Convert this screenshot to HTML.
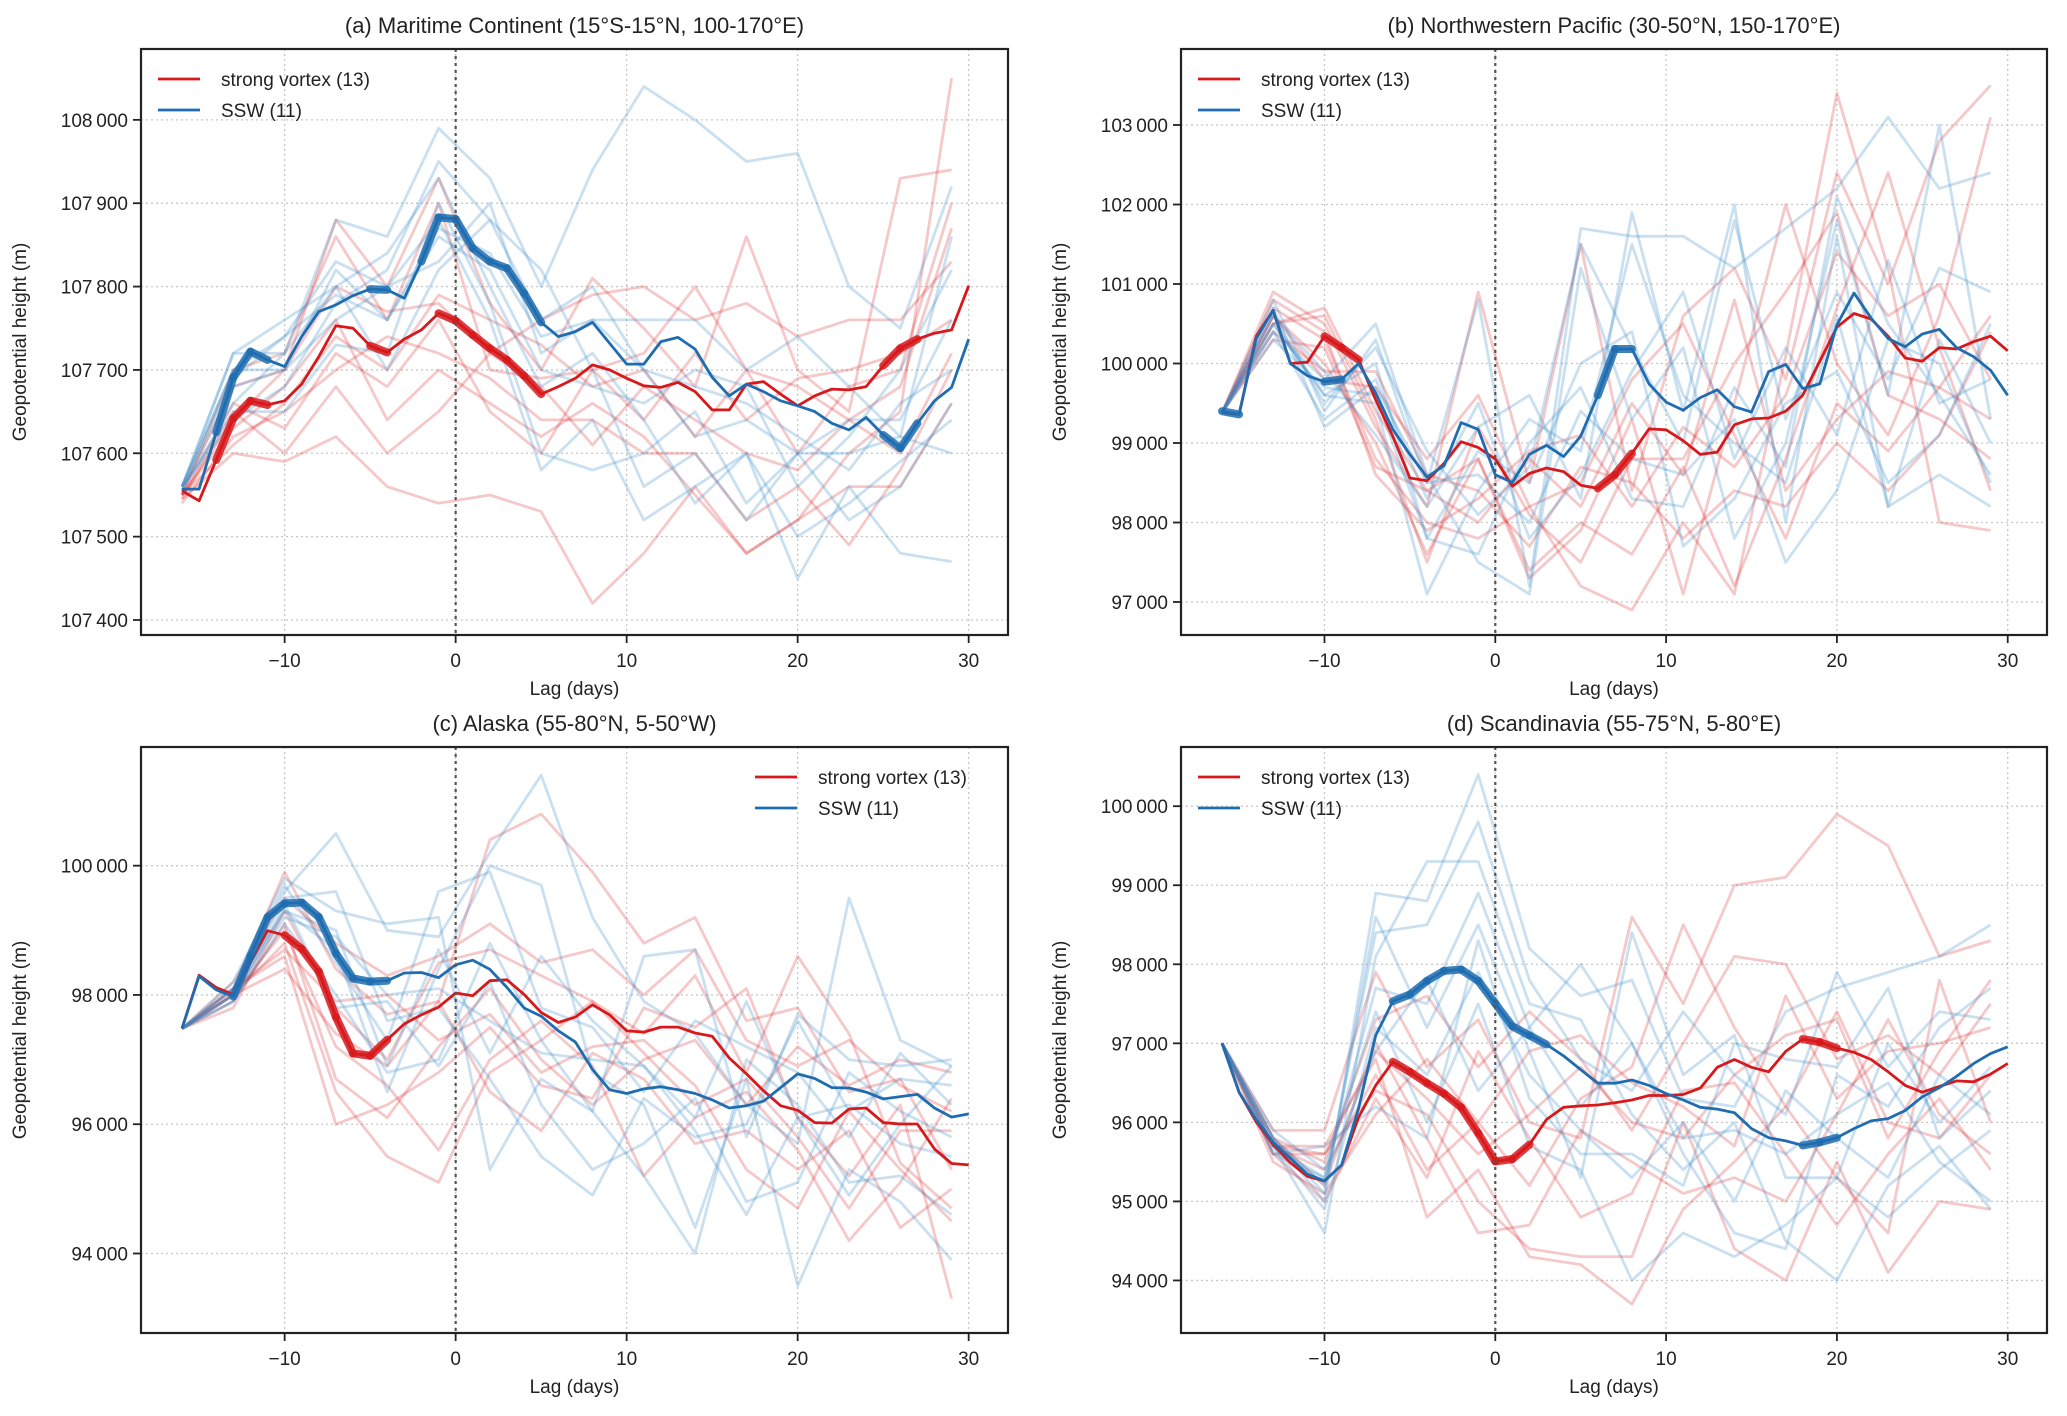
<!DOCTYPE html>
<html><head><meta charset="utf-8"><style>
html,body{margin:0;padding:0;background:#fff;}
svg{display:block;font-family:"Liberation Sans",Arial,sans-serif;}
</style></head>
<body>
<svg id="fig" width="2067" height="1416" viewBox="0 0 2067 1416" xmlns="http://www.w3.org/2000/svg"></svg>
<script>
const lags = [-16,-15,-14,-13,-12,-11,-10,-9,-8,-7,-6,-5,-4,-3,-2,-1,0,1,2,3,4,5,6,7,8,9,10,11,12,13,14,15,16,17,18,19,20,21,22,23,24,25,26,27,28,29,30];
const memberLags = [-16,-13,-10,-7,-4,-1,2,5,8,11,14,17,20,23,26,29];
const xTicks = [-10,0,10,20,30];
const xTickLabels = ["\u221210","0","10","20","30"];

// Panel (a)
const aRedMean = [107555,107543,107592,107642,107663,107658,107663,107683,107716,107753,107750,107729,107721,107737,107748,107768,107759,107742,107726,107712,107693,107671,107680,107690,107706,107700,107690,107681,107679,107685,107674,107652,107652,107683,107686,107671,107657,107669,107677,107676,107680,107705,107726,107737,107744,107748,107801];
const aBlueMean = [107557,107557,107625,107691,107722,107712,107704,107740,107770,107778,107789,107797,107796,107786,107830,107883,107881,107846,107830,107822,107792,107757,107740,107746,107757,107732,107707,107707,107734,107739,107725,107691,107669,107683,107674,107663,107657,107650,107636,107628,107643,107622,107606,107636,107663,107679,107737];
const aRedSig = [-14,-13,-12,-11,-5,-4,-1,0,1,2,3,4,5,25,26,27];
const aBlueSig = [-14,-13,-12,-11,-5,-4,-2,-1,0,1,2,3,4,5,25,26,27];
const aRedMembers = [
[107550,107640,107700,107880,107800,107930,107780,107700,107810,107750,107680,107860,107700,107650,107930,107940],
[107545,107600,107590,107620,107560,107540,107550,107530,107420,107480,107560,107480,107520,107600,107650,108050],
[107550,107660,107630,107720,107680,107760,107650,107600,107700,107640,107720,107640,107690,107700,107720,107760],
[107540,107620,107650,107700,107740,107720,107690,107640,107640,107600,107600,107520,107560,107490,107580,107700],
[107555,107680,107700,107800,107770,107780,107720,107760,107790,107800,107760,107780,107740,107760,107760,107830],
[107550,107630,107680,107760,107640,107700,107660,107620,107660,107620,107550,107480,107520,107560,107560,107660],
[107550,107700,107720,107860,107760,107900,107700,107690,107700,107720,107800,107700,107680,107640,107680,107870],
[107545,107650,107600,107680,107600,107650,107720,107680,107610,107680,107640,107600,107580,107640,107600,107720],
[107550,107610,107660,107740,107700,107790,107760,107730,107680,107700,107620,107700,107600,107680,107700,107900]];
const aBlueMembers = [
[107560,107720,107720,107880,107860,107990,107930,107800,107940,108040,108000,107950,107960,107800,107750,107920],
[107560,107700,107740,107830,107800,107880,107760,107580,107640,107520,107560,107600,107450,107560,107480,107470],
[107555,107680,107700,107760,107800,107830,107900,107720,107760,107760,107760,107700,107740,107680,107620,107860],
[107560,107650,107650,107730,107720,107900,107780,107600,107580,107600,107650,107540,107600,107600,107620,107600],
[107560,107720,107760,107800,107700,107820,107880,107760,107800,107700,107620,107640,107600,107640,107640,107760],
[107560,107640,107680,107780,107820,107950,107880,107820,107700,107560,107600,107520,107600,107520,107560,107660],
[107560,107700,107700,107820,107760,107860,107820,107700,107680,107660,107700,107680,107560,107620,107700,107820],
[107555,107660,107720,107800,107840,107930,107800,107680,107720,107640,107540,107600,107500,107540,107590,107640],
[107560,107690,107740,107790,107760,107870,107840,107740,107760,107700,107680,107660,107620,107580,107660,107700]];
const aYTicks = [107400,107500,107600,107700,107800,107900,108000];

// Panel (b)
const bRedMean = [99383,99360,100343,100669,100000,100017,100343,100200,100046,99543,99086,98560,98526,98743,99017,98943,98800,98457,98617,98686,98640,98469,98429,98600,98869,99177,99166,99029,98857,98886,99229,99303,99314,99400,99600,100029,100457,100629,100560,100343,100069,100029,100200,100183,100274,100343,100160];
const bBlueMean = [99400,99360,100314,100669,100000,99846,99771,99800,100000,99629,99171,98857,98571,98714,99257,99171,98600,98503,98857,98971,98829,99086,99600,100183,100183,99743,99514,99411,99571,99669,99457,99389,99897,99989,99686,99743,100486,100886,100571,100314,100211,100371,100429,100200,100086,99914,99600];
const bRedSig = [-10,-9,-8,6,7,8];
const bBlueSig = [-16,-15,-10,-9,6,7,8];
const bRedMembers = [
[99380,100900,100500,99200,98200,100900,98500,101500,98400,100600,101200,99800,102400,101000,102800,103500],
[99380,100600,100000,99000,97600,98800,97400,98000,97600,98700,97200,98800,100700,102400,100200,98400],
[99380,100500,100700,99400,98400,98000,98800,98200,99500,98600,100800,98400,99300,99900,99700,99300],
[99380,100700,100300,98800,98000,97800,98200,97200,96900,98000,97100,100100,103400,101200,98000,97900],
[99380,100300,100200,98700,98400,98800,97300,97900,99300,97100,99500,102000,100000,99100,100600,103100],
[99380,100600,99800,99700,98800,99600,98200,98500,99800,100500,99100,97800,99500,98900,99700,100600],
[99380,100800,100400,98600,97900,98300,98900,99100,98200,99200,98700,99600,101400,100600,101000,99800],
[99380,100400,99900,99900,98600,98400,97700,98700,98500,97800,98400,98200,99000,98400,99100,100400],
[99380,100500,100600,99300,97500,99200,98100,97500,98800,98800,100000,100900,101900,99600,99300,98800]];
const bBlueMembers = [
[99380,100800,99400,100300,98500,100800,97200,101700,101600,101600,101200,101700,102200,103100,102200,102400],
[99380,100500,99600,99500,97100,98400,99300,98900,101500,99600,99000,98500,100600,98200,98600,98200],
[99380,100400,99800,100500,98600,97500,97100,101200,99300,100200,97800,99000,101800,99600,103000,99300],
[99380,100700,99200,99700,98500,98600,98000,99400,98800,98600,99300,97500,98400,100300,100000,98500],
[99380,100600,99900,99100,98200,99200,99600,98300,101900,99400,102000,98000,101600,98200,100300,99000],
[99380,100300,99700,99600,97800,98900,98500,100000,100400,97700,98300,99500,99900,98500,99100,100500],
[99380,100600,99500,100200,98900,98100,98700,101500,100200,99000,101800,99300,100900,99800,101200,100900],
[99380,100400,99300,99800,98300,99500,97800,98600,99900,100900,98800,100200,99100,101300,99500,99800],
[99380,100500,99600,100000,97800,97600,99000,99700,98300,98200,99700,98700,102100,100500,99600,98600]];
const bYTicks = [97000,98000,99000,100000,101000,102000,103000];

// Panel (c)
const cRedMean = [97482,98305,98115,98009,98502,98994,98924,98713,98361,97657,97095,97059,97306,97552,97693,97812,98030,97988,98220,98234,98009,97728,97573,97657,97847,97693,97446,97425,97503,97503,97411,97362,97024,96778,96518,96286,96215,96025,96018,96236,96251,96025,96004,96004,95617,95392,95371];
const cBlueMean = [97482,98291,98080,97974,98607,99205,99416,99430,99205,98642,98255,98206,98220,98340,98347,98269,98466,98537,98396,98115,97798,97671,97446,97270,96848,96532,96476,96546,96581,96532,96476,96377,96251,96286,96356,96567,96778,96708,96567,96560,96497,96391,96427,96462,96251,96110,96159];
const cRedSig = [-10,-9,-8,-7,-6,-5,-4];
const cBlueSig = [-13,-12,-11,-10,-9,-8,-7,-6,-5,-4];
const cRedMembers = [
[97480,98050,99900,98400,97700,97900,100400,100800,99900,98800,99200,97600,97800,96500,96700,95300],
[97480,98000,98800,96500,95500,95100,96800,97300,97900,97400,98300,96800,98600,97400,95400,94700],
[97480,98100,98600,96000,96300,96800,97500,96600,96400,97800,97500,98100,96100,95200,96300,93300],
[97480,97800,99300,97800,97000,98500,98700,98300,97900,97100,96300,96700,95800,94700,95900,95900],
[97480,98000,99000,97200,96600,95600,97000,97600,96900,95200,96100,96500,95600,94200,95100,96400],
[97480,98100,98700,97900,98000,97300,97700,96800,97200,97300,96600,95300,94700,96200,95300,94500],
[97480,98200,99500,98800,98300,98600,99100,98500,98700,98000,98700,97300,96900,97300,96600,96200],
[97480,98000,98400,97400,96900,97900,96500,95900,97100,96700,95700,95900,95300,95900,94400,95000],
[97480,97900,99100,96700,96100,97200,98100,97000,96300,97000,97300,96300,97200,96600,97000,96800]];
const cBlueMembers = [
[97480,98100,99600,100500,99000,98900,100200,101400,99200,97900,97400,96300,95700,99500,97300,96900],
[97480,98000,99300,98700,96500,98400,100000,99700,96800,96300,94400,96700,93500,95300,94800,93900],
[97480,98000,99500,99600,97600,97800,96700,95500,94900,96400,95800,96000,97600,96200,96700,96600],
[97480,97900,99100,98000,96800,97000,98800,97300,96200,95200,94000,97000,96300,95100,95200,94600],
[97480,98200,99800,99300,99100,99200,95300,96700,96200,98600,98700,95800,97700,97000,96900,97000],
[97480,98000,99200,98900,98000,98100,97600,97100,97000,96900,95900,94600,96100,96300,95700,95500],
[97480,98100,99700,98500,97300,99600,99900,97800,97500,96500,97600,97200,96800,95800,97100,96300],
[97480,97900,99400,97800,97900,96900,98200,96300,95300,95700,96400,94800,95100,96800,96200,95800],
[97480,98100,99300,99000,96900,98700,97100,98600,97600,96900,96100,97900,96100,94900,96000,96900]];
const cYTicks = [94000,96000,98000,100000];

// Panel (d)
const dRedMean = [97002,96380,96006,95718,95489,95316,95258,95460,96064,96467,96766,96640,96496,96364,96191,95863,95506,95535,95719,96036,96191,96208,96220,96249,96283,96340,96340,96352,96433,96697,96795,96697,96640,96898,97054,97014,96939,96887,96795,96640,96467,96381,96455,96525,96513,96611,96743];
const dBlueMean = [97002,96380,96035,95748,95547,95345,95259,95460,96179,97100,97532,97618,97790,97917,97934,97790,97503,97215,97100,96985,96841,96668,96496,96496,96536,96467,96364,96283,96191,96168,96122,95921,95806,95765,95708,95748,95806,95921,96018,96047,96150,96323,96438,96582,96743,96870,96956];
const dRedSig = [-6,-5,-4,-3,-2,-1,0,1,2,18,19,20];
const dBlueSig = [-6,-5,-4,-3,-2,-1,0,1,2,3,18,19,20];
const dRedMembers = [
[97000,95900,95900,97900,96700,97300,96000,95800,98600,97500,99000,99100,99900,99500,98100,98300],
[97000,95600,95600,96400,96100,95000,94400,94300,94300,96000,94400,94000,95500,94100,95000,94900],
[97000,95700,95400,96600,95400,96000,96900,97100,96500,96200,95700,97600,96300,96900,97000,97200],
[97000,95800,95200,97000,95800,94600,94700,95900,95500,95100,95300,95000,96100,97300,96100,95600],
[97000,95500,95100,96100,96800,96000,95200,96300,96700,98500,97200,96200,97400,96000,95800,96600],
[97000,95700,95700,96800,94800,95400,94300,94200,93700,94900,95500,96200,95300,94600,97800,96000],
[97000,95800,95500,97300,97600,96700,97400,96800,95900,97000,98100,98000,96800,97100,96600,97500],
[97000,95600,95000,96300,95300,96900,95800,94800,95100,96400,96500,95600,94700,95600,96300,95400],
[97000,95700,95600,96900,96300,95600,96100,96700,96000,95800,96600,97100,97300,95800,96900,97800]];
const dBlueMembers = [
[97000,95800,95000,98900,98800,100400,98200,97600,97800,96300,96200,97400,97700,97900,98100,98500],
[97000,95700,94600,98100,99300,99300,97500,97300,96100,95400,96000,94500,94000,95200,95700,94900],
[97000,95800,95100,98600,97200,98500,96900,95300,98400,96600,97100,95300,95300,97000,96000,96700],
[97000,95900,95400,97400,96000,97500,95700,95400,94000,94600,94300,94700,95300,94800,95400,95900],
[97000,95700,95300,96900,97800,96400,97200,98000,97000,95600,94600,94400,96600,96200,97200,97700],
[97000,95600,95700,96200,95800,98300,96300,95600,95600,95200,97000,96800,96700,97700,95800,96400],
[97000,95800,95200,98400,98500,99800,97800,96800,96400,97400,96600,96100,97900,96700,97400,97300],
[97000,95700,94900,97200,96600,97900,96600,95900,95300,96000,95000,96400,95800,95300,96600,96100],
[97000,95600,95300,97700,97500,98900,97200,96200,97000,95800,95900,95600,96100,96500,95500,95000]];
const dYTicks = [94000,95000,96000,97000,98000,99000,100000];

const legendLabels = ["strong vortex (13)","SSW (11)"];
const RED = "#d7191c", BLUE = "#1f6db0";
const NS = "http://www.w3.org/2000/svg";
const svg = document.getElementById('fig');

function mk(tag, attrs, parent){
  const e = document.createElementNS(NS, tag);
  for (const k in attrs) e.setAttribute(k, attrs[k]);
  (parent||svg).appendChild(e);
  return e;
}
function fmt(v){ const s = String(v); return s.slice(0, s.length-3) + "\u2009" + s.slice(s.length-3); }

const panels = [
 {id:'a', title:"(a) Maritime Continent (15\u00b0S-15\u00b0N, 100-170\u00b0E)", L:141, R:1008, T:49, B:635, y0:107382, y1:108085, red:aRedMean, blue:aBlueMean, rs:aRedSig, bs:aBlueSig, rm:aRedMembers, bm:aBlueMembers, yt:aYTicks, leg:'left'},
 {id:'b', title:"(b) Northwestern Pacific (30-50\u00b0N, 150-170\u00b0E)", L:1181, R:2047, T:49, B:635, y0:96585, y1:103956, red:bRedMean, blue:bBlueMean, rs:bRedSig, bs:bBlueSig, rm:bRedMembers, bm:bBlueMembers, yt:bYTicks, leg:'left'},
 {id:'c', title:"(c) Alaska (55-80\u00b0N, 5-50\u00b0W)", L:141, R:1008, T:747, B:1333, y0:92770, y1:101836, red:cRedMean, blue:cBlueMean, rs:cRedSig, bs:cBlueSig, rm:cRedMembers, bm:cBlueMembers, yt:cYTicks, leg:'right'},
 {id:'d', title:"(d) Scandinavia (55-75\u00b0N, 5-80\u00b0E)", L:1181, R:2047, T:747, B:1333, y0:93335, y1:100749, red:dRedMean, blue:dBlueMean, rs:dRedSig, bs:dBlueSig, rm:dRedMembers, bm:dBlueMembers, yt:dYTicks, leg:'left'}
];
const X0 = -18.4, X1 = 32.3;

panels.forEach(p => {
  const g = mk('g', {});
  
  
  const xs = d => p.L + (d - X0) / (X1 - X0) * (p.R - p.L);
  const ys = v => p.B - (v - p.y0) / (p.y1 - p.y0) * (p.B - p.T);

  const cp = mk('clipPath', {id:'clip-' + p.id}, g);
  mk('rect', {x:p.L, y:p.T, width:p.R-p.L, height:p.B-p.T}, cp);

  xTicks.forEach(t => {
    const l = mk('line', {x1:xs(t), x2:xs(t), y1:p.T, y2:p.B, stroke:'#c8c8c8', 'stroke-width':1.3, 'stroke-dasharray':'2,3'}, g);
    
    
  });
  p.yt.forEach(t => {
    const l = mk('line', {x1:p.L, x2:p.R, y1:ys(t), y2:ys(t), stroke:'#c8c8c8', 'stroke-width':1.3, 'stroke-dasharray':'2,3'}, g);
    
    
  });

  const plot = mk('g', {'clip-path':'url(#clip-' + p.id + ')'}, g);
  
  

  const pathFrom = (xsArr, vals) => vals.map((v,i) => (i ? 'L' : 'M') + xs(xsArr[i]).toFixed(1) + ',' + ys(v).toFixed(1)).join('');

  p.rm.forEach(m => {
    const e = mk('path', {d:pathFrom(memberLags, m), fill:'none', stroke:RED, 'stroke-opacity':0.24, 'stroke-width':2.8, 'stroke-linejoin':'round'}, plot);
    
    
  });
  p.bm.forEach(m => {
    const e = mk('path', {d:pathFrom(memberLags, m), fill:'none', stroke:'#3a8cc8', 'stroke-opacity':0.27, 'stroke-width':2.8, 'stroke-linejoin':'round'}, plot);
    
    
  });

  const z = mk('line', {x1:xs(0), x2:xs(0), y1:p.T, y2:p.B, stroke:'#555', 'stroke-width':2.2, 'stroke-dasharray':'3,4'}, g);
  
  

  const drawMean = (vals, sig, col, name) => {
    for (let i = 0; i < lags.length - 1; i++) {
      if (sig.includes(lags[i]) && sig.includes(lags[i+1])) {
        const s = mk('line', {x1:xs(lags[i]), y1:ys(vals[i]), x2:xs(lags[i+1]), y2:ys(vals[i+1]), stroke:col, 'stroke-opacity':0.85, 'stroke-width':8, 'stroke-linecap':'round'}, plot);
        
        
      }
    }
    const e = mk('path', {d:pathFrom(lags, vals), fill:'none', stroke:col, 'stroke-width':2.8, 'stroke-linejoin':'round'}, plot);
    
    
  };
  drawMean(p.red, p.rs, RED, 'strong-vortex');
  drawMean(p.blue, p.bs, BLUE, 'ssw');

  const fr = mk('rect', {x:p.L, y:p.T, width:p.R-p.L, height:p.B-p.T, fill:'none', stroke:'#222', 'stroke-width':2.2}, g);
  
  

  xTicks.forEach((t,i) => {
    mk('line', {x1:xs(t), x2:xs(t), y1:p.B, y2:p.B+8, stroke:'#222', 'stroke-width':1.8}, g);
    const tx = mk('text', {x:xs(t), y:p.B+32, 'text-anchor':'middle', 'font-size':19, fill:'#222'}, g);
    tx.textContent = xTickLabels[i];
    
    
  });
  const xl = mk('text', {x:(p.L+p.R)/2, y:p.B+60, 'text-anchor':'middle', 'font-size':19, fill:'#222'}, g);
  xl.textContent = 'Lag (days)';
  
  

  p.yt.forEach(t => {
    mk('line', {x1:p.L-8, x2:p.L, y1:ys(t), y2:ys(t), stroke:'#222', 'stroke-width':1.8}, g);
    const ty = mk('text', {x:p.L-13, y:ys(t)+7, 'text-anchor':'end', 'font-size':19, fill:'#222'}, g);
    ty.textContent = fmt(t);
    
    
  });
  const yx = p.L - 115, yy = (p.T+p.B)/2;
  const yl = mk('text', {x:yx, y:yy, 'text-anchor':'middle', 'font-size':19, fill:'#222', transform:'rotate(-90 ' + yx + ' ' + yy + ')'}, g);
  yl.textContent = 'Geopotential height (m)';
  
  

  const tt = mk('text', {x:(p.L+p.R)/2, y:p.T-16, 'text-anchor':'middle', 'font-size':22, fill:'#222'}, g);
  tt.textContent = p.title;
  
  

  const lx = p.leg === 'left' ? p.L + 17 : p.R - 253;
  const lg = mk('g', {}, g);
  
  
  [RED, BLUE].forEach((c,i) => {
    const yy2 = p.T + 30 + i*31;
    mk('line', {x1:lx, x2:lx+42, y1:yy2, y2:yy2, stroke:c, 'stroke-width':2.8}, lg);
    const lt = mk('text', {x:lx+63, y:yy2+7, 'font-size':19, fill:'#222'}, lg);
    lt.textContent = legendLabels[i];
    
    
  });
});
</script>
</body></html>
